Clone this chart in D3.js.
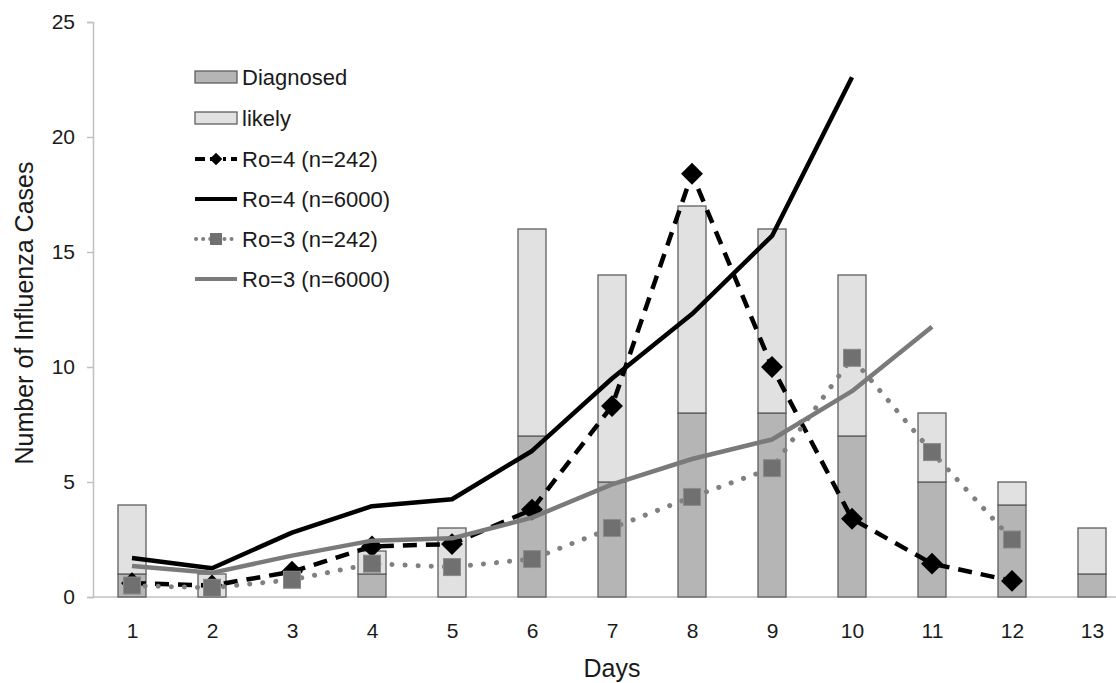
<!DOCTYPE html>
<html><head><meta charset="utf-8">
<script src="https://cdn.jsdelivr.net/npm/d3@7"></script>
<style>body{margin:0;background:#fff}svg{display:block}text{font-family:"Liberation Sans",Arial,sans-serif}</style>
</head><body><svg id="c" width="1116" height="683"></svg>
<script>
const days = [1,2,3,4,5,6,7,8,9,10,11,12,13];
const diagnosed = [1,0,0,1,0,7,5,8,8,7,5,4,1];
const likely    = [3,1,0,1,3,9,9,9,8,7,3,1,2];
const ro4n242  = [0.6,0.5,1.1,2.2,2.3,3.8,8.3,18.4,10,3.4,1.45,0.7];
const ro4n6000 = [1.7,1.25,2.8,3.95,4.25,6.35,9.5,12.3,15.7,22.6];
const ro3n242  = [0.5,0.4,0.75,1.45,1.3,1.65,3.0,4.35,5.6,10.4,6.3,2.5];
const ro3n6000 = [1.35,1.05,1.8,2.45,2.55,3.45,4.9,6.0,6.85,8.95,11.75];
const yTicks = [0,5,10,15,20,25];
const legendLabels = ["Diagnosed","likely","Ro=4 (n=242)","Ro=4 (n=6000)","Ro=3 (n=242)","Ro=3 (n=6000)"];

const svg = d3.select("#c");
const x = d3.scaleLinear().domain([0.5,13.5]).range([92,1132]);
const y = d3.scaleLinear().domain([0,25]).range([597,22]);
const barW = 28;
const txt = "#1a1a1a";

// axes
const yAxis = svg.append("g").attr("transform","translate(93,0)")
  .call(d3.axisLeft(y).tickValues(yTicks).tickSize(6).tickPadding(12));
yAxis.select(".domain").attr("stroke","#c0c0c0").attr("stroke-width",1.5);
yAxis.selectAll(".tick line").attr("stroke","#c0c0c0").attr("stroke-width",1.5);
yAxis.selectAll("text").attr("font-size",21).attr("fill",txt).style("font-family","Liberation Sans, Arial");

const xAxis = svg.append("g").attr("transform","translate(0,597)")
  .call(d3.axisBottom(x).tickValues(days).tickSize(0).tickPadding(26).tickFormat(d3.format("d")));
xAxis.select(".domain").attr("stroke","#c0c0c0").attr("stroke-width",1.5).attr("d","M93,0H1116");
xAxis.selectAll("text").attr("font-size",21).attr("fill",txt).style("font-family","Liberation Sans, Arial");

svg.append("text").attr("x",612).attr("y",677).attr("text-anchor","middle").attr("font-size",25).attr("fill",txt).text("Days");
svg.append("text").attr("transform","translate(33,313) rotate(-90)").attr("text-anchor","middle").attr("font-size",25).attr("fill",txt).text("Number of Influenza Cases");

// bars
const bars = svg.append("g");
days.forEach((d,i)=>{
  if (diagnosed[i]>0) bars.append("rect").attr("x",x(d)-barW/2).attr("y",y(diagnosed[i])).attr("width",barW)
     .attr("height",y(0)-y(diagnosed[i])).attr("fill","#b5b5b5").attr("stroke","#5f5f5f").attr("stroke-width",1.3);
  if (likely[i]>0) bars.append("rect").attr("x",x(d)-barW/2).attr("y",y(diagnosed[i]+likely[i])).attr("width",barW)
     .attr("height",y(diagnosed[i])-y(diagnosed[i]+likely[i])).attr("fill","#e1e1e1").attr("stroke","#5f5f5f").attr("stroke-width",1.3);
});

const line = d3.line().x((d,i)=>x(days[i])).y(d=>y(d));
function drawSeries(vals, opts){
  svg.append("path").datum(vals).attr("d",line).attr("fill","none")
    .attr("stroke",opts.color).attr("stroke-width",opts.width)
    .attr("stroke-dasharray",opts.dash||null).attr("stroke-linecap",opts.cap||"butt")
    .attr("stroke-linejoin","round");
  if (opts.marker==="diamond") {
    svg.append("g").selectAll("path").data(vals).join("path")
      .attr("d",d3.symbol(d3.symbolSquare,240)())
      .attr("transform",(d,i)=>`translate(${x(days[i])},${y(d)}) rotate(45)`)
      .attr("fill","#000");
  } else if (opts.marker==="square") {
    svg.append("g").selectAll("rect").data(vals).join("rect")
      .attr("x",(d,i)=>x(days[i])-8.5).attr("y",d=>y(d)-8.5).attr("width",17).attr("height",17)
      .attr("fill","#707070").attr("stroke","#8a8a8a").attr("stroke-width",1);
  }
}
drawSeries(ro4n242,{color:"#000",width:4.5,dash:"14 9",marker:"diamond"});
drawSeries(ro4n6000,{color:"#000",width:4.5});
drawSeries(ro3n242,{color:"#808080",width:5,dash:"0.1 13",cap:"round",marker:"square"});
drawSeries(ro3n6000,{color:"#7a7a7a",width:4.5});

// legend
const lg = svg.append("g");
const ly = [77,118,159,199,239,279];
const lx0 = 195, lx1 = 237;
lg.append("rect").attr("x",lx0).attr("y",ly[0]-6).attr("width",lx1-lx0).attr("height",12).attr("fill","#b5b5b5").attr("stroke","#5f5f5f").attr("stroke-width",1.3);
lg.append("rect").attr("x",lx0).attr("y",ly[1]-6).attr("width",lx1-lx0).attr("height",12).attr("fill","#e1e1e1").attr("stroke","#5f5f5f").attr("stroke-width",1.3);
lg.append("path").attr("d",`M${lx0},${ly[2]}H${lx1}`).attr("stroke","#000").attr("stroke-width",4).attr("stroke-dasharray","10 5 8 5 3 5");
lg.append("path").attr("d",d3.symbol(d3.symbolSquare,80)()).attr("transform",`translate(${(lx0+lx1)/2},${ly[2]}) rotate(45)`).attr("fill","#000");
lg.append("path").attr("d",`M${lx0},${ly[3]}H${lx1}`).attr("stroke","#000").attr("stroke-width",4);
lg.append("path").attr("d",`M${lx0+1},${ly[4]}H${lx1}`).attr("stroke","#808080").attr("stroke-width",4).attr("stroke-dasharray","0.1 7").attr("stroke-linecap","round");
lg.append("rect").attr("x",(lx0+lx1)/2-6).attr("y",ly[4]-6).attr("width",12).attr("height",12).attr("fill","#707070");
lg.append("path").attr("d",`M${lx0},${ly[5]}H${lx1}`).attr("stroke","#7a7a7a").attr("stroke-width",4);
legendLabels.forEach((t,i)=>{
  lg.append("text").attr("x",242).attr("y",ly[i]).attr("dy","0.36em").attr("font-size",22).attr("fill",txt).text(t);
});
</script></body></html>
